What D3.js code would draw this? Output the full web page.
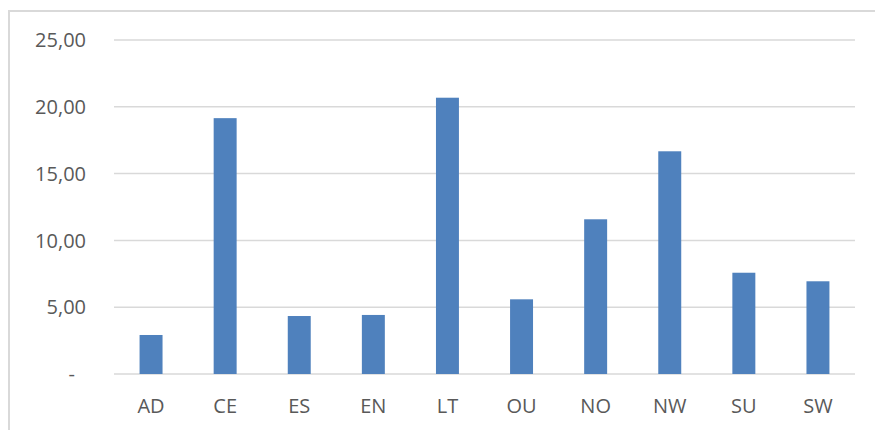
<!DOCTYPE html>
<html>
<head>
<meta charset="utf-8">
<script src="https://cdn.jsdelivr.net/npm/d3@7"></script>
<style>
  body { margin: 0; background: #fff; }
  text { font-family: "Open Sans", "Noto Sans", sans-serif; fill: #595959; }
</style>
</head>
<body>
<div id="main"></div>
<script>

var regions = ["AD", "CE", "ES", "EN", "LT", "OU", "NO", "NW", "SU", "SW"];
var values = [2.92, 19.15, 4.34, 4.42, 20.68, 5.59, 11.58, 16.67, 7.58, 6.94];
var yTicks = [0, 5, 10, 15, 20, 25];

var W = 875, H = 430;
var margin = { top: 40, left: 114, right: 20, bottom: 56 };

var svg = d3.select("#main")
	.append("svg")
	.attr("width", W)
	.attr("height", H);

// chart frame (runs off the right/bottom edge)
svg.append("rect")
	.attr("x", 9)
	.attr("y", 11)
	.attr("width", W + 20)
	.attr("height", H + 20)
	.attr("fill", "none")
	.attr("stroke", "#d9d9d9")
	.attr("stroke-width", 2);

var x = d3.scaleBand()
	.domain(regions)
	.range([margin.left, W - margin.right])
	.paddingInner(0.69)
	.paddingOuter(0.345);

var y = d3.scaleLinear()
	.domain([0, 25])
	.range([374, 40]);

// gridlines
svg.append("g")
	.selectAll("line")
	.data(yTicks)
	.enter()
	.append("line")
	.attr("x1", margin.left)
	.attr("x2", W - margin.right)
	.attr("y1", function(d) { return y(d) })
	.attr("y2", function(d) { return y(d) })
	.attr("stroke", "#d9d9d9")
	.attr("stroke-width", 1.5);

// y labels, excel accounting style
function fmt(d) {
	if (d === 0) return "-";
	return d3.format(".2f")(d).replace(".", ",");
}

svg.append("g")
	.selectAll("text")
	.data(yTicks)
	.enter()
	.append("text")
	.attr("x", function(d) { return d === 0 ? 75 : 86 })
	.attr("y", function(d) { return y(d) })
	.attr("dy", "0.36em")
	.attr("text-anchor", "end")
	.style("font-size", "20px")
	.text(fmt);

// bars
svg.append("g")
	.selectAll("rect")
	.data(values)
	.enter()
	.append("rect")
	.attr("x", function(d, i) { return x(regions[i]) })
	.attr("y", function(d) { return y(d) })
	.attr("width", x.bandwidth())
	.attr("height", function(d) { return y(0) - y(d) })
	.attr("fill", "#4f81bd");

// category labels
svg.append("g")
	.selectAll("text")
	.data(regions)
	.enter()
	.append("text")
	.attr("x", function(d) { return x(d) + x.bandwidth() / 2 })
	.attr("y", 413)
	.attr("text-anchor", "middle")
	.style("font-size", "20px")
	.text(function(d) { return d });

</script>
</body>
</html>
